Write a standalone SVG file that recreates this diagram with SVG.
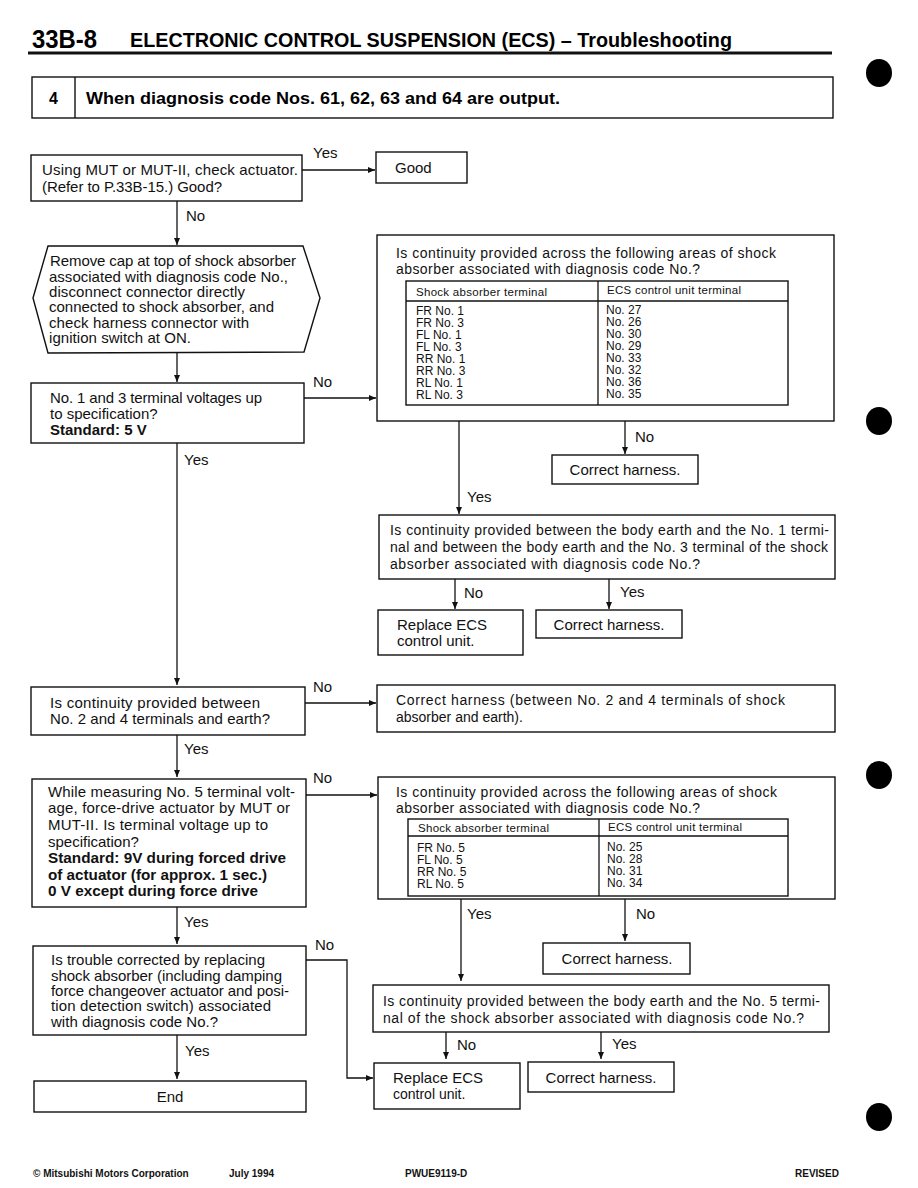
<svg xmlns="http://www.w3.org/2000/svg" width="918" height="1188" viewBox="0 0 918 1188">
<defs>
<marker id="ah" markerWidth="8" markerHeight="8" refX="7" refY="4" orient="auto" markerUnits="userSpaceOnUse">
<path d="M0,1 L7,4 L0,7 Z" fill="#111"/>
</marker>
<style>
.b{fill:#fff;stroke:#111;stroke-width:1.4}
.t{font-family:"Liberation Sans",Arial,sans-serif;font-size:15px;fill:#111}
.s{font-family:"Liberation Sans",Arial,sans-serif;font-size:14px;fill:#111}
.m{font-family:"Liberation Sans",Arial,sans-serif;font-size:15px;fill:#111}
.bd{font-weight:bold}
.tb{font-family:"Liberation Sans",Arial,sans-serif;font-size:12px;fill:#111}
.th{font-family:"Liberation Sans",Arial,sans-serif;font-size:11.5px;fill:#111}
.l{font-family:"Liberation Sans",Arial,sans-serif;font-size:15px;fill:#111}
.c{fill:none;stroke:#111;stroke-width:1.3}
.a{fill:none;stroke:#111;stroke-width:1.3;marker-end:url(#ah)}
.f{font-family:"Liberation Sans",Arial,sans-serif;font-size:10px;font-weight:bold;fill:#111}
</style>
</defs>
<rect width="918" height="1188" fill="#fff"/>

<g id="header">
<text x="32" y="48" font-family="Liberation Sans,Arial,sans-serif" font-size="25" font-weight="bold" textLength="65" lengthAdjust="spacingAndGlyphs">33B-8</text>
<text x="130" y="47" font-family="Liberation Sans,Arial,sans-serif" font-size="20" font-weight="bold" textLength="602" lengthAdjust="spacingAndGlyphs">ELECTRONIC CONTROL SUSPENSION (ECS) – Troubleshooting</text>
<line x1="28" y1="53" x2="832" y2="53" stroke="#111" stroke-width="3"/>
<ellipse cx="879" cy="73" rx="13" ry="14" fill="#000"/>
<ellipse cx="879" cy="421" rx="13" ry="14" fill="#000"/>
<ellipse cx="879" cy="775" rx="13" ry="14" fill="#000"/>
<ellipse cx="879" cy="1117" rx="13" ry="14" fill="#000"/>
</g>

<g id="title">
<rect x="32" y="77" width="801" height="41" class="b" stroke-width="1.6"/>
<line x1="75" y1="77" x2="75" y2="118" stroke="#111" stroke-width="1.4"/>
<text x="49" y="104" font-family="Liberation Sans,Arial,sans-serif" font-size="16" font-weight="bold">4</text>
<text x="86" y="104" font-family="Liberation Sans,Arial,sans-serif" font-size="16" font-weight="bold" textLength="474" lengthAdjust="spacingAndGlyphs">When diagnosis code Nos. 61, 62, 63 and 64 are output.</text>
</g>

<g id="connectors">
<line x1="302" y1="170" x2="375" y2="170" class="a"/>
<line x1="177" y1="201" x2="177" y2="245" class="a"/>
<line x1="177" y1="353" x2="177" y2="382" class="a"/>
<line x1="304" y1="398" x2="376" y2="398" class="a"/>
<line x1="459" y1="421" x2="459" y2="514" class="a"/>
<line x1="625" y1="421" x2="625" y2="454" class="a"/>
<line x1="455" y1="579" x2="455" y2="609" class="a"/>
<line x1="609" y1="579" x2="609" y2="609" class="a"/>
<line x1="177" y1="443" x2="177" y2="685" class="a"/>
<line x1="305" y1="703" x2="376" y2="703" class="a"/>
<line x1="177" y1="735" x2="177" y2="777" class="a"/>
<line x1="306" y1="795" x2="377" y2="795" class="a"/>
<line x1="461" y1="899" x2="461" y2="981" class="a"/>
<line x1="625" y1="899" x2="625" y2="941" class="a"/>
<line x1="446" y1="1032" x2="446" y2="1059" class="a"/>
<line x1="601" y1="1032" x2="601" y2="1059" class="a"/>
<line x1="177" y1="907" x2="177" y2="944" class="a"/>
<polyline points="306,960 347,960 347,1078 373,1078" class="a"/>
<line x1="177" y1="1035" x2="177" y2="1079" class="a"/>
<text x="313" y="158" class="l">Yes</text>
<text x="186" y="221" class="l">No</text>
<text x="313" y="387" class="l">No</text>
<text x="635" y="442" class="l">No</text>
<text x="467" y="502" class="l">Yes</text>
<text x="464" y="598" class="l">No</text>
<text x="620" y="597" class="l">Yes</text>
<text x="184" y="465" class="l">Yes</text>
<text x="313" y="692" class="l">No</text>
<text x="184" y="754" class="l">Yes</text>
<text x="313" y="783" class="l">No</text>
<text x="467" y="919" class="l">Yes</text>
<text x="636" y="919" class="l">No</text>
<text x="184" y="927" class="l">Yes</text>
<text x="315" y="950" class="l">No</text>
<text x="457" y="1050" class="l">No</text>
<text x="612" y="1049" class="l">Yes</text>
<text x="185" y="1056" class="l">Yes</text>
</g>

<g id="n1">
<rect x="31" y="155" width="271" height="46" class="b"/>
<text x="42" y="175" class="t" textLength="256" lengthAdjust="spacing">Using MUT or MUT-II, check actuator.</text>
<text x="42" y="192" class="t" textLength="180" lengthAdjust="spacing">(Refer to P.33B-15.) Good?</text>
</g>

<g id="good">
<rect x="376" y="152" width="91" height="31" class="b"/>
<text x="395" y="173" class="t">Good</text>
</g>

<g id="n2">
<polygon points="48,246 303,246 320,298 304,352 48,353 33,298" class="b"/>
<text x="50" y="266" class="t" textLength="246" lengthAdjust="spacing">Remove cap at top of shock absorber</text>
<text x="49" y="282" class="t" textLength="239" lengthAdjust="spacing">associated with diagnosis code No.,</text>
<text x="49" y="297" class="t" textLength="196" lengthAdjust="spacing">disconnect connector directly</text>
<text x="49" y="312" class="t" textLength="225" lengthAdjust="spacing">connected to shock absorber, and</text>
<text x="49" y="328" class="t" textLength="200" lengthAdjust="spacing">check harness connector with</text>
<text x="49" y="343" class="t" textLength="142" lengthAdjust="spacing">ignition switch at ON.</text>
</g>

<g id="n3">
<rect x="31" y="383" width="273" height="60" class="b"/>
<text x="50" y="403" class="t" textLength="212" lengthAdjust="spacing">No. 1 and 3 terminal voltages up</text>
<text x="50" y="419" class="t">to specification?</text>
<text x="50" y="435" class="t bd">Standard: 5 V</text>
</g>

<g id="n4">
<rect x="377" y="235" width="457" height="186" class="b"/>
<text x="396" y="258" class="s" textLength="380" lengthAdjust="spacing">Is continuity provided across the following areas of shock</text>
<text x="396" y="274" class="s" textLength="304" lengthAdjust="spacing">absorber associated with diagnosis code No.?</text>
<rect x="406" y="281" width="382" height="124" class="b"/>
<line x1="406" y1="301" x2="788" y2="301" stroke="#111" stroke-width="1.3"/>
<line x1="598" y1="281" x2="598" y2="405" stroke="#111" stroke-width="1.3"/>
<text x="416" y="296" class="th" textLength="131" lengthAdjust="spacing">Shock absorber terminal</text>
<text x="607" y="294" class="th" textLength="134" lengthAdjust="spacing">ECS control unit terminal</text>
<text class="tb"><tspan x="416" y="315">FR No. 1</tspan><tspan x="416" y="327">FR No. 3</tspan><tspan x="416" y="339">FL No. 1</tspan><tspan x="416" y="351">FL No. 3</tspan><tspan x="416" y="363">RR No. 1</tspan><tspan x="416" y="375">RR No. 3</tspan><tspan x="416" y="387">RL No. 1</tspan><tspan x="416" y="399">RL No. 3</tspan></text>
<text class="tb"><tspan x="606" y="314">No. 27</tspan><tspan x="606" y="326">No. 26</tspan><tspan x="606" y="338">No. 30</tspan><tspan x="606" y="350">No. 29</tspan><tspan x="606" y="362">No. 33</tspan><tspan x="606" y="374">No. 32</tspan><tspan x="606" y="386">No. 36</tspan><tspan x="606" y="398">No. 35</tspan></text>
</g>

<g id="n5">
<rect x="552" y="455" width="146" height="29" class="b"/>
<text x="625" y="475" class="m" text-anchor="middle">Correct harness.</text>
</g>

<g id="n6">
<rect x="379" y="515" width="456" height="64" class="b"/>
<text x="390" y="535" class="s" textLength="439" lengthAdjust="spacing">Is continuity provided between the body earth and the No. 1 termi-</text>
<text x="390" y="552" class="s" textLength="438" lengthAdjust="spacing">nal and between the body earth and the No. 3 terminal of the shock</text>
<text x="390" y="569" class="s" textLength="310" lengthAdjust="spacing">absorber associated with diagnosis code No.?</text>
</g>

<g id="n7">
<rect x="378" y="610" width="145" height="45" class="b"/>
<text x="397" y="630" class="m">Replace ECS</text>
<text x="397" y="646" class="m">control unit.</text>
</g>

<g id="n8">
<rect x="536" y="610" width="146" height="28" class="b"/>
<text x="609" y="630" class="m" text-anchor="middle">Correct harness.</text>
</g>

<g id="n9">
<rect x="31" y="687" width="274" height="48" class="b"/>
<text x="50" y="708" class="t" textLength="210" lengthAdjust="spacing">Is continuity provided between</text>
<text x="50" y="724" class="t" textLength="220" lengthAdjust="spacing">No. 2 and 4 terminals and earth?</text>
</g>

<g id="n10">
<rect x="377" y="685" width="458" height="47" class="b"/>
<text x="396" y="705" class="s" textLength="389" lengthAdjust="spacing">Correct harness (between No. 2 and 4 terminals of shock</text>
<text x="396" y="722" class="s">absorber and earth).</text>
</g>

<g id="n11">
<rect x="32" y="779" width="274" height="128" class="b"/>
<text x="48" y="797" class="t" textLength="247" lengthAdjust="spacing">While measuring No. 5 terminal volt-</text>
<text x="48" y="813" class="t" textLength="242" lengthAdjust="spacing">age, force-drive actuator by MUT or</text>
<text x="48" y="830" class="t" textLength="220" lengthAdjust="spacing">MUT-II. Is terminal voltage up to</text>
<text x="48" y="847" class="t">specification?</text>
<text x="48" y="863" class="t bd" textLength="238" lengthAdjust="spacingAndGlyphs">Standard: 9V during forced drive</text>
<text x="48" y="880" class="t bd" textLength="219" lengthAdjust="spacingAndGlyphs">of actuator (for approx. 1 sec.)</text>
<text x="48" y="896" class="t bd" textLength="210" lengthAdjust="spacingAndGlyphs">0 V except during force drive</text>
</g>

<g id="n12">
<rect x="378" y="777" width="457" height="122" class="b"/>
<text x="396" y="797" class="s" textLength="381" lengthAdjust="spacing">Is continuity provided across the following areas of shock</text>
<text x="396" y="813" class="s" textLength="304" lengthAdjust="spacing">absorber associated with diagnosis code No.?</text>
<rect x="408" y="819" width="380" height="77" class="b"/>
<line x1="408" y1="836" x2="788" y2="836" stroke="#111" stroke-width="1.3"/>
<line x1="599" y1="819" x2="599" y2="896" stroke="#111" stroke-width="1.3"/>
<text x="418" y="832" class="th" textLength="131" lengthAdjust="spacing">Shock absorber terminal</text>
<text x="608" y="831" class="th" textLength="134" lengthAdjust="spacing">ECS control unit terminal</text>
<text class="tb"><tspan x="417" y="852">FR No. 5</tspan><tspan x="417" y="864">FL No. 5</tspan><tspan x="417" y="876">RR No. 5</tspan><tspan x="417" y="888">RL No. 5</tspan></text>
<text class="tb"><tspan x="607" y="851">No. 25</tspan><tspan x="607" y="863">No. 28</tspan><tspan x="607" y="875">No. 31</tspan><tspan x="607" y="887">No. 34</tspan></text>
</g>

<g id="n13">
<rect x="543" y="943" width="147" height="31" class="b"/>
<text x="617" y="964" class="m" text-anchor="middle">Correct harness.</text>
</g>

<g id="n14">
<rect x="373" y="985" width="456" height="47" class="b"/>
<text x="383" y="1006" class="s" textLength="437" lengthAdjust="spacing">Is continuity provided between the body earth and the No. 5 termi-</text>
<text x="383" y="1023" class="s" textLength="421" lengthAdjust="spacing">nal of the shock absorber associated with diagnosis code No.?</text>
</g>

<g id="n15">
<rect x="374" y="1063" width="146" height="46" class="b"/>
<text x="393" y="1083" class="m">Replace ECS</text>
<text x="393" y="1099" class="s">control unit.</text>
</g>

<g id="n16">
<rect x="528" y="1062" width="146" height="30" class="b"/>
<text x="601" y="1083" class="m" text-anchor="middle">Correct harness.</text>
</g>

<g id="n17">
<rect x="33" y="946" width="273" height="89" class="b"/>
<text x="51" y="965" class="t" textLength="214" lengthAdjust="spacing">Is trouble corrected by replacing</text>
<text x="51" y="981" class="t" textLength="231" lengthAdjust="spacing">shock absorber (including damping</text>
<text x="51" y="996" class="t" textLength="238" lengthAdjust="spacing">force changeover actuator and posi-</text>
<text x="51" y="1011" class="t" textLength="220" lengthAdjust="spacing">tion detection switch) associated</text>
<text x="51" y="1027" class="t" textLength="167" lengthAdjust="spacing">with diagnosis code No.?</text>
</g>

<g id="n18">
<rect x="34" y="1081" width="272" height="31" class="b"/>
<text x="170" y="1102" class="t" text-anchor="middle">End</text>
</g>

<g id="footer">
<text x="33" y="1177" class="f">© Mitsubishi Motors Corporation</text>
<text x="229" y="1177" class="f">July 1994</text>
<text x="405" y="1177" class="f">PWUE9119-D</text>
<text x="795" y="1177" class="f">REVISED</text>
</g>
</svg>
